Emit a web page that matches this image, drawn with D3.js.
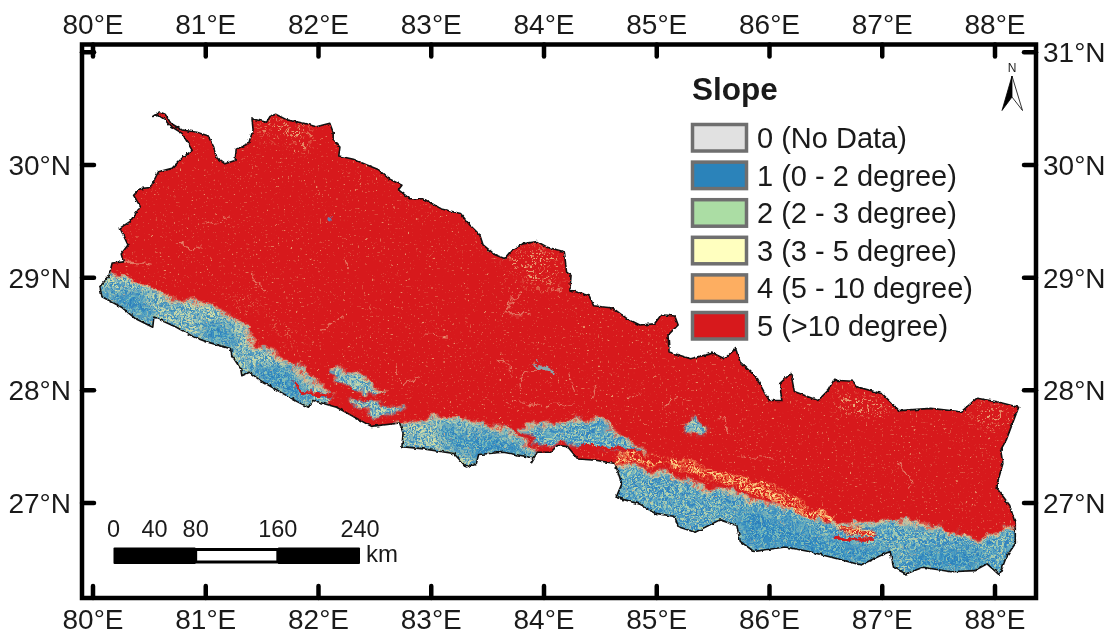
<!DOCTYPE html>
<meta charset="utf-8">
<head>
  <title>Nepal slope map</title>
  <style>
    html, body { margin: 0; padding: 0; background: #fff; }
    text { font-family: "Liberation Sans", Arial, sans-serif; fill: #1a1a1a; }
  </style>
</head>

<!-- Load d3.js -->
<script src="https://d3js.org/d3.v7.min.js"></script>

<div id="my_dataviz"></div>

<script>

// ---- data, all in degrees ----
var lonTicks = [80, 81, 82, 83, 84, 85, 86, 87, 88];
var latTicks = [31, 30, 29, 28, 27];

var legendLabels = ["0 (No Data)", "1 (0 - 2 degree)", "2 (2 - 3 degree)", "3 (3 - 5 degree)", "4 (5 - 10 degree)", "5 (>10 degree)"];
var legendColors = ["#e1e1e1", "#2b83ba", "#abdda4", "#ffffbf", "#fdae61", "#d7191c"];

var scaleKmLabels = [0, 40, 80, 160, 240];
var scaleKmBlack = [[0, 80], [160, 240]];
var scaleKmWhite = [[80, 160]];

// country outline, clockwise from the north west spur
var border = [
  [80.53,30.43],[80.59,30.47],[80.64,30.45],[80.69,30.37],[80.79,30.31],[80.92,30.29],[81.02,30.26],[81.07,30.16],
  [81.10,30.06],[81.17,30.01],[81.26,30.04],[81.27,30.14],[81.38,30.19],[81.42,30.31],[81.41,30.41],[81.54,30.38],
  [81.57,30.43],[81.62,30.45],[81.72,30.40],[81.87,30.37],[81.98,30.34],[82.10,30.37],[82.13,30.29],[82.13,30.22],
  [82.19,30.16],[82.18,30.08],[82.31,30.05],[82.43,30.00],[82.53,29.96],[82.62,29.88],[82.74,29.82],[82.71,29.78],
  [82.81,29.70],[82.93,29.70],[83.09,29.61],[83.26,29.57],[83.34,29.47],[83.43,29.38],[83.46,29.29],[83.57,29.20],
  [83.65,29.17],[83.71,29.24],[83.81,29.30],[83.94,29.32],[84.03,29.27],[84.18,29.23],[84.20,29.05],[84.24,29.02],
  [84.23,28.89],[84.40,28.84],[84.44,28.75],[84.61,28.73],[84.73,28.64],[84.85,28.58],[84.98,28.59],[85.04,28.67],
  [85.16,28.66],[85.19,28.58],[85.10,28.49],[85.11,28.34],[85.30,28.28],[85.50,28.33],[85.60,28.28],[85.70,28.37],
  [85.74,28.25],[85.88,28.12],[85.96,27.97],[86.00,27.91],[86.11,27.91],[86.09,28.06],[86.19,28.15],[86.22,27.99],
  [86.43,27.91],[86.52,28.00],[86.57,28.09],[86.74,28.08],[86.78,28.03],[87.00,27.97],[87.15,27.82],[87.43,27.84],
  [87.70,27.81],[87.84,27.93],[88.01,27.90],[88.21,27.85],[88.16,27.72],[88.10,27.56],[88.05,27.47],[88.07,27.35],
  [88.01,27.14],[88.13,26.98],[88.18,26.82],[88.18,26.64],[88.10,26.52],[88.04,26.36],[87.93,26.46],[87.82,26.40],
  [87.61,26.39],[87.36,26.43],[87.21,26.37],[87.10,26.43],[87.07,26.57],[87.00,26.54],[86.81,26.45],[86.66,26.49],
  [86.35,26.57],[86.14,26.61],[85.86,26.57],[85.74,26.66],[85.71,26.80],[85.56,26.85],[85.34,26.74],[85.19,26.79],
  [85.16,26.88],[84.98,26.91],[84.85,26.99],[84.64,27.05],[84.69,27.17],[84.63,27.35],[84.46,27.38],[84.30,27.39],
  [84.21,27.50],[84.12,27.51],[84.06,27.45],[83.94,27.45],[83.88,27.35],[83.91,27.40],[83.64,27.45],[83.42,27.43],
  [83.40,27.35],[83.31,27.32],[83.20,27.44],[82.93,27.48],[82.74,27.50],[82.75,27.62],[82.72,27.71],[82.47,27.68],
  [82.34,27.75],[82.16,27.85],[81.95,27.91],[81.91,27.85],[81.81,27.90],[81.48,28.09],[81.39,28.16],[81.32,28.13],
  [81.31,28.19],[81.23,28.31],[81.22,28.37],[81.01,28.43],[80.90,28.47],[80.74,28.56],[80.54,28.65],[80.53,28.56],
  [80.37,28.64],[80.25,28.74],[80.08,28.83],[80.06,28.92],[80.14,29.01],[80.17,29.13],[80.27,29.14],[80.25,29.21],
  [80.31,29.29],[80.24,29.44],[80.33,29.50],[80.42,29.63],[80.36,29.73],[80.42,29.79],[80.51,29.80],[80.58,29.94],
  [80.70,29.97],[80.80,30.07],[80.88,30.13],[80.79,30.28],[80.68,30.35],[80.64,30.40],[80.58,30.44]
];

// flat ground, clipped to the border later so the south edge can overshoot
var lowWest = [[80.14,29.02],[80.33,28.99],[80.51,28.89],[80.68,28.80],[80.98,28.77],[81.16,28.68],[81.36,28.56],[81.41,28.41],[81.63,28.30],[81.81,28.18],[81.95,28.06],[82.13,27.96],[82.05,27.75],[81.50,27.90],[81.00,28.20],[80.50,28.40],[79.95,28.70],[79.95,28.98]];
var lowLens = [[82.10,28.20],[82.34,28.15],[82.46,28.07],[82.58,27.97],[82.34,27.99],[82.16,28.10]];
var lowDang = [[82.25,27.93],[82.55,27.90],[82.75,27.82],[82.49,27.75],[82.37,27.85]];
var lowCentre = [[82.71,27.71],[82.93,27.74],[83.20,27.75],[83.49,27.69],[83.73,27.62],[83.94,27.45],[83.95,27.25],[83.30,27.20],[82.60,27.40]];
var lowChitwan = [[83.78,27.66],[84.00,27.68],[84.24,27.72],[84.46,27.75],[84.59,27.66],[84.82,27.50],[84.92,27.41],[84.30,27.51],[84.12,27.53],[83.95,27.50],[83.91,27.57]];
var lowEast = [[84.64,27.35],[84.92,27.29],[85.19,27.22],[85.44,27.14],[85.74,27.07],[86.05,26.97],[86.35,26.88],[86.61,26.82],[86.84,26.82],[87.06,26.83],[87.27,26.80],[87.58,26.76],[87.88,26.68],[88.19,26.77],[88.30,26.20],[86.30,26.25],[85.50,26.50],[84.50,26.85]];
var lowKathmandu = [[85.22,27.68],[85.34,27.78],[85.47,27.68],[85.34,27.59]];

// the lowest and flattest strips, bluest of all
var deepWest1 = [[80.06,28.89],[80.27,28.89],[80.51,28.77],[80.54,28.59],[80.24,28.74]];
var deepWest2 = [[81.01,28.62],[81.19,28.59],[81.30,28.41],[81.10,28.41],[80.95,28.50]];
var deepWest3 = [[81.45,28.21],[81.72,28.21],[81.92,28.00],[81.92,27.85],[81.63,27.97],[81.33,28.21]];
var deepCentre = [[83.05,27.68],[83.49,27.62],[83.76,27.56],[83.91,27.38],[83.64,27.44],[83.34,27.41],[83.11,27.53]];
var deepEast1 = [[85.74,26.97],[86.14,26.85],[86.54,26.67],[87.06,26.58],[87.06,26.46],[86.66,26.46],[86.14,26.58],[85.74,26.64]];
var deepEast2 = [[87.27,26.61],[87.88,26.58],[87.98,26.40],[87.27,26.40]];
var deepZones = [deepWest1, deepWest2, deepWest3, deepCentre, deepEast1, deepEast2];

// places where the pale speckle is much denser
var paleNorth = [[81.42,30.40],[81.63,30.44],[81.90,30.34],[81.92,30.10],[81.69,30.22],[81.45,30.28]];
var paleMustang = [[83.64,29.18],[83.86,29.30],[84.11,29.25],[84.15,28.95],[83.90,28.90]];
var paleEast = [[86.54,28.00],[86.97,27.94],[87.09,27.76],[86.66,27.76]];
var paleFarEast = [[87.79,27.88],[88.16,27.82],[88.10,27.65],[87.82,27.71]];
var paleSurkhet = [[81.22,28.83],[81.36,28.83],[81.53,28.68],[81.45,28.71],[81.27,28.74]];
var paleJajarkot = [[81.57,28.61],[81.69,28.58],[81.91,28.39],[81.72,28.46],[81.59,28.53]];
var paleZones = [paleNorth, paleMustang, paleEast, paleFarEast, paleSurkhet, paleJajarkot];

// thin valleys on the hills
var valleys = [
  [[80.28,29.14],[80.51,29.12]],
  [[82.93,28.50],[83.17,28.49]],
  [[82.66,28.21],[82.78,28.06],[82.90,28.13]],
  [[83.66,27.91],[83.97,27.87],[84.27,27.84]],
  [[81.42,29.05],[81.44,28.95],[81.54,28.86]],
  [[83.61,28.64],[83.79,28.89]],
  [[80.98,29.47],[81.22,29.55]],
  [[80.77,29.30],[80.95,29.26]],
  [[82.22,29.15],[82.28,29.11]],
  [[84.21,28.15],[84.27,28.00]],
  [[84.46,28.06],[84.43,27.94]],
  [[84.73,27.94],[84.89,28.00]],
  [[85.07,27.87],[85.16,27.93],[85.31,27.90]],
  [[85.56,27.76],[85.65,27.62]],
  [[87.16,27.38],[87.27,27.11]],
  [[85.74,27.41],[86.05,27.38]],
  [[82.01,28.53],[82.19,28.62],[82.25,28.65]],
  [[83.61,28.27],[83.73,28.15]],
  [[83.76,28.00],[83.85,28.15],[83.94,28.21]],
  [[83.64,28.68],[83.88,28.68]],
  [[84.03,28.89],[84.20,28.92]]
];
var foothillA = [[84.64,27.41],[84.98,27.38],[85.22,27.34],[85.50,27.23],[85.74,27.17],[85.99,27.07],[86.23,26.95],[86.54,26.85]];
var foothillB = [[85.50,27.26],[85.74,27.22],[86.05,27.13],[86.35,26.97]];
var orangeEast = [[86.61,26.80],[86.92,26.71]];
var redStripes = [
  [[84.33,27.50],[84.61,27.48],[84.89,27.41],[85.13,27.37]],
  [[86.58,26.68],[86.89,26.67]],
  [[81.78,28.06],[81.87,27.97],[82.13,27.96]]
];
var blueValley = [[83.89,28.25],[84.10,28.13]];
var blueLake = [[82.10,29.52]];

// ---- layout ----
var width = 1116, height = 637;
var frame = {left: 82, right: 1036, top: 44.5, bottom: 598};

var x = d3.scaleLinear().domain([80, 88]).range([93, 995]);
var y = d3.scaleLinear().domain([27, 31]).range([503, 52.3]);
var km = d3.scaleLinear().domain([0, 240]).range([113.5, 360]);

var svg = d3.select("#my_dataviz")
  .append("svg")
    .attr("width", width)
    .attr("height", height)
    .style("display", "block");

var line = d3.line().x(function(d) { return x(d[0]) }).y(function(d) { return y(d[1]) });
var poly = d3.line().x(function(d) { return x(d[0]) }).y(function(d) { return y(d[1]) }).curve(d3.curveLinearClosed);

var defs = svg.append("defs");
defs.append("clipPath").attr("id", "nepal").append("path").attr("d", poly(border));

// grainy raster look: noise mapped through a small colour table
function grain(id, seed, edge, rt, gt, bt) {
  var f = defs.append("filter").attr("id", id)
    .attr("x", "-5%").attr("y", "-5%").attr("width", "110%").attr("height", "110%")
    .attr("color-interpolation-filters", "sRGB");
  f.append("feTurbulence").attr("type", "fractalNoise").attr("baseFrequency", 0.48)
    .attr("numOctaves", 2).attr("seed", seed).attr("result", "n");
  f.append("feColorMatrix").attr("in", "n").attr("type", "matrix")
    .attr("values", "3.2 0 0 0 -1.1  3.2 0 0 0 -1.1  3.2 0 0 0 -1.1  0 0 0 0 1").attr("result", "c");
  var t = f.append("feComponentTransfer").attr("in", "c").attr("result", "t");
  t.append("feFuncR").attr("type", "table").attr("tableValues", rt);
  t.append("feFuncG").attr("type", "table").attr("tableValues", gt);
  t.append("feFuncB").attr("type", "table").attr("tableValues", bt);
  f.append("feGaussianBlur").attr("in", "SourceAlpha").attr("stdDeviation", edge).attr("result", "a");
  f.append("feComposite").attr("in", "t").attr("in2", "a").attr("operator", "in").attr("result", "m");
  f.append("feGaussianBlur").attr("in", "m").attr("stdDeviation", 0.5);
}
grain("lowPale", 3, 0.8, "0.24 0.36 0.50 0.68 0.80", "0.55 0.63 0.71 0.80 0.86", "0.74 0.75 0.74 0.70 0.66");
grain("lowBlue", 8, 0.8, "0.20 0.26 0.36 0.50 0.70", "0.52 0.58 0.65 0.73 0.82", "0.75 0.76 0.76 0.74 0.68");
grain("lowDeep", 6, 5, "0.17 0.19 0.24 0.34 0.50", "0.50 0.53 0.58 0.65 0.74", "0.74 0.75 0.76 0.76 0.72");
grain("edgePale", 9, 1.2, "0.50 0.65 0.82 0.93 0.88", "0.72 0.78 0.83 0.80 0.45", "0.72 0.70 0.66 0.58 0.35");
grain("orangeMix", 5, 1, "0.84 0.86 0.92 0.97 0.99", "0.10 0.16 0.40 0.65 0.85", "0.11 0.13 0.25 0.40 0.55");

// sparse pale flecks on the red
function fleck(id, seed, edge, alpha, b) {
  var f = defs.append("filter").attr("id", id)
    .attr("x", "-5%").attr("y", "-5%").attr("width", "110%").attr("height", "110%")
    .attr("color-interpolation-filters", "sRGB");
  f.append("feTurbulence").attr("type", "fractalNoise").attr("baseFrequency", 0.5)
    .attr("numOctaves", 2).attr("seed", seed).attr("result", "n");
  f.append("feColorMatrix").attr("in", "n").attr("type", "matrix")
    .attr("values", "0 0 0 0 0.92  0 0 0 0 0.70  0 0 0 0 0.50  " + alpha + " 0 0 0 " + b).attr("result", "c");
  f.append("feGaussianBlur").attr("in", "SourceAlpha").attr("stdDeviation", edge).attr("result", "a");
  f.append("feComposite").attr("in", "c").attr("in2", "a").attr("operator", "in").attr("result", "m");
  f.append("feGaussianBlur").attr("in", "m").attr("stdDeviation", 0.4);
}
fleck("fleckSparse", 11, 0.1, 7, -4.75);
fleck("fleckDense", 4, 6, 7, -3.95);

// displacement filters: the fine one for the border, the wide one for the land forms
function wobble(id, seed, freq, scale) {
  var f = defs.append("filter").attr("id", id)
    .attr("x", "-3%").attr("y", "-3%").attr("width", "106%").attr("height", "106%")
    .attr("color-interpolation-filters", "sRGB");
  f.append("feTurbulence").attr("type", "fractalNoise").attr("baseFrequency", freq)
    .attr("numOctaves", 3).attr("seed", seed).attr("result", "n");
  f.append("feDisplacementMap").attr("in", "SourceGraphic").attr("in2", "n")
    .attr("scale", scale).attr("xChannelSelector", "R").attr("yChannelSelector", "G");
}
wobble("rough", 2, 0.22, 3);
wobble("organic", 7, 0.07, 16);

// ---- the map ----
var map = svg.append("g").attr("filter", "url(#rough)");
map.append("path").attr("d", poly(border)).attr("fill", "#d7191c");

var inside = map.append("g").attr("clip-path", "url(#nepal)");
var land = inside.append("g").attr("filter", "url(#organic)");

function texture(points, filterId) {
  land.append("path").attr("d", poly(points)).attr("fill", "#000").attr("filter", "url(#" + filterId + ")");
}
function streak(points, filterId, w) {
  land.append("path").attr("d", line(points)).attr("fill", "none")
    .attr("stroke", "#000").attr("stroke-width", w).attr("filter", "url(#" + filterId + ")");
}

paleZones.forEach(function(d) { texture(d, "fleckDense"); });

land.selectAll(".valley").data(valleys).enter().append("path")
    .attr("class", "valley")
    .attr("d", line)
    .attr("fill", "none")
    .attr("stroke", "#eec9a0")
    .attr("stroke-width", 1.1)
    .attr("stroke-opacity", 0.55);

texture(lowWest, "lowPale");
texture(lowLens, "lowPale");
texture(lowDang, "lowPale");
texture(lowCentre, "lowPale");
texture(lowChitwan, "lowBlue");
texture(lowEast, "lowBlue");
texture(lowKathmandu, "lowPale");
deepZones.forEach(function(d) { texture(d, "lowDeep"); });

// pale fringe where the flat ground meets the hills
streak(lowWest.slice(0, 12), "edgePale", 3);
streak(lowLens.slice(0, 4), "edgePale", 2.5);
streak(lowCentre.slice(0, 6), "edgePale", 3);
streak(lowChitwan.slice(0, 7), "edgePale", 3);
streak(lowEast.slice(0, 14), "edgePale", 3.5);

streak(foothillA, "orangeMix", 8);
streak(foothillB, "orangeMix", 5);
streak(orangeEast, "orangeMix", 8);

land.selectAll(".stripe").data(redStripes).enter().append("path")
    .attr("class", "stripe")
    .attr("d", line)
    .attr("fill", "none")
    .attr("stroke", "#d7191c")
    .attr("stroke-width", 3.5);
land.append("path").attr("d", line(blueValley)).attr("fill", "none")
    .attr("stroke", "#8aa6ac").attr("stroke-width", 2.5);

inside.append("path").attr("d", poly(border)).attr("fill", "#000").attr("filter", "url(#fleckSparse)").attr("opacity", 0.8);

inside.selectAll(".lake").data(blueLake).enter().append("circle")
    .attr("class", "lake")
    .attr("cx", function(d) { return x(d[0]) })
    .attr("cy", function(d) { return y(d[1]) })
    .attr("r", 2.4)
    .attr("fill", "#5f7fb0");

map.append("path").attr("d", poly(border))
    .attr("fill", "none")
    .attr("stroke", "#111")
    .attr("stroke-width", 1.6)
    .attr("stroke-linejoin", "round");

// ---- frame and graticule ticks ----
var tickLen = 12;
var ticks = svg.append("g").attr("stroke", "#000").attr("stroke-width", 4.5).attr("stroke-linecap", "round");
lonTicks.forEach(function(d) {
  ticks.append("line").attr("x1", x(d)).attr("x2", x(d)).attr("y1", frame.top).attr("y2", frame.top + tickLen);
  ticks.append("line").attr("x1", x(d)).attr("x2", x(d)).attr("y1", frame.bottom).attr("y2", frame.bottom - tickLen);
});
latTicks.forEach(function(d) {
  ticks.append("line").attr("y1", y(d)).attr("y2", y(d)).attr("x1", frame.left).attr("x2", frame.left + tickLen);
  ticks.append("line").attr("y1", y(d)).attr("y2", y(d)).attr("x1", frame.right).attr("x2", frame.right - tickLen);
});
svg.append("rect")
    .attr("x", frame.left).attr("y", frame.top)
    .attr("width", frame.right - frame.left).attr("height", frame.bottom - frame.top)
    .attr("fill", "none").attr("stroke", "#000").attr("stroke-width", 4.5);

var labelSize = 28;
lonTicks.forEach(function(d) {
  svg.append("text").attr("x", x(d)).attr("y", 34).attr("text-anchor", "middle")
    .style("font-size", labelSize + "px").text(d + "°E");
  svg.append("text").attr("x", x(d)).attr("y", 629).attr("text-anchor", "middle")
    .style("font-size", labelSize + "px").text(d + "°E");
});
latTicks.forEach(function(d) {
  if (d != 31) {
    svg.append("text").attr("x", 71).attr("y", y(d) + 10).attr("text-anchor", "end")
      .style("font-size", labelSize + "px").text(d + "°N");
  }
  svg.append("text").attr("x", 1043).attr("y", y(d) + 10)
    .style("font-size", labelSize + "px").text(d + "°N");
});

// ---- legend ----
svg.append("text").attr("x", 692).attr("y", 100)
    .style("font-size", "31.5px").style("font-weight", "bold").text("Slope");

var legendY = d3.scaleLinear().domain([0, 5]).range([123, 311]);
legendLabels.forEach(function(d, i) {
  svg.append("rect")
    .attr("x", 692.5).attr("y", legendY(i) + 1.5)
    .attr("width", 54).attr("height", 26.5)
    .attr("fill", legendColors[i])
    .attr("stroke", "#6f6f6f").attr("stroke-width", 3.5);
  svg.append("text").attr("x", 757).attr("y", legendY(i) + 25)
    .style("font-size", "29px").text(d);
});

// ---- north arrow ----
svg.append("text").attr("x", 1012).attr("y", 72).attr("text-anchor", "middle")
    .style("font-size", "12px").text("N");
svg.append("path").attr("d", "M1012,76 L1002,110.5 L1012,97 Z").attr("fill", "#000").attr("stroke", "#000").attr("stroke-width", 0.8);
svg.append("path").attr("d", "M1012,76 L1022.5,110.5 L1012,97 Z").attr("fill", "#fff").attr("stroke", "#000").attr("stroke-width", 0.8);

// ---- scale bar ----
svg.selectAll(".barBlack").data(scaleKmBlack).enter().append("rect")
    .attr("class", "barBlack")
    .attr("x", function(d) { return km(d[0]) })
    .attr("width", function(d) { return km(d[1]) - km(d[0]) })
    .attr("y", 547.5).attr("height", 16.5).attr("rx", 1)
    .attr("fill", "#000");
svg.selectAll(".barWhite").data(scaleKmWhite).enter().append("rect")
    .attr("class", "barWhite")
    .attr("x", function(d) { return km(d[0]) })
    .attr("width", function(d) { return km(d[1]) - km(d[0]) })
    .attr("y", 549.5).attr("height", 12.5)
    .attr("fill", "#fff").attr("stroke", "#000").attr("stroke-width", 3);
scaleKmLabels.forEach(function(d) {
  svg.append("text").attr("x", km(d)).attr("y", 536.5).attr("text-anchor", "middle")
    .style("font-size", "23.5px").text(d);
});
svg.append("text").attr("x", 366).attr("y", 562).style("font-size", "24px").text("km");

</script>
